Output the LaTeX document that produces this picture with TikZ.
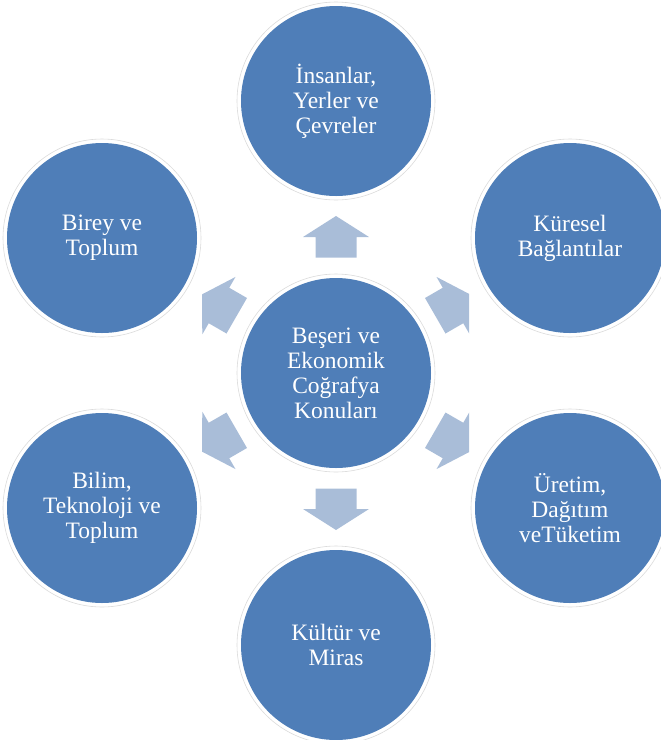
\documentclass[tikz,border=0pt]{standalone}
\usepackage{fontspec}
\setmainfont{Liberation Serif}
\usetikzlibrary{calc}
\definecolor{bubblue}{RGB}{79,126,184}
\definecolor{arrblue}{RGB}{169,189,216}
\tikzset{
  bub/.style={circle, fill=white, draw=black!14, line width=0.6pt,
    minimum size=198pt, inner sep=0pt, text=white, align=center,
    font=\fontsize{23.5}{25}\selectfont,
    path picture={\fill[bubblue] (path picture bounding box.center) circle (95pt);}},
  blockarrow/.style={fill=arrblue, draw=none}
}
\newcommand{\blockarr}[3]{%
  \begin{scope}
    \clip ($(c.center)+(-134,-400)$) rectangle ($(c.center)+(133,400)$);
    \begin{scope}[shift={($(#1)!0.5!(#2)$)}, rotate=#3]
      \fill[blockarrow] (-20.5,20.5) -- (0,20.5) -- (0,33) -- (21,0) -- (0,-33) -- (0,-20.5) -- (-20.5,-20.5) -- cycle;
    \end{scope}
  \end{scope}}
\begin{document}
\begin{tikzpicture}[x=1pt,y=-1pt]
\useasboundingbox (0,0) rectangle (661,740);
\node[bub] (c)  at (336,373) {Beşeri ve\\Ekonomik\\Coğrafya\\Konuları};
\node[bub] (t)  at (336,101) {İnsanlar,\\Yerler ve\\Çevreler};
\node[bub] (tr) at (570,238) {Küresel\\Bağlantılar};
\node[bub] (br) at (570,508) {Üretim,\\Dağıtım\\veTüketim};
\node[bub] (b)  at (336,645) {Kültür ve\\Miras};
\node[bub] (bl) at (102,508) {Bilim,\\Teknoloji ve\\Toplum};
\node[bub] (tl) at (102,238) {Birey ve\\Toplum};
\blockarr{c}{t}{90}
\blockarr{c}{tr}{30}
\blockarr{c}{br}{-30}
\blockarr{c}{b}{-90}
\blockarr{c}{bl}{-150}
\blockarr{c}{tl}{150}
\end{tikzpicture}
\end{document}
